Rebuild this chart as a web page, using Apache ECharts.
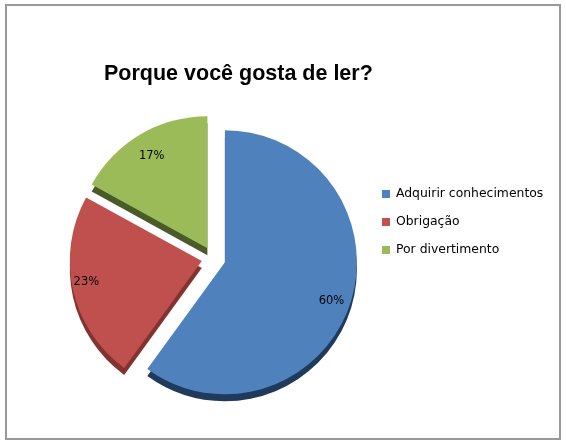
<!DOCTYPE html>
<html>
<head>
<meta charset="utf-8">
<style>
  html, body { margin: 0; padding: 0; background: #fff; }
  #chart { width: 566px; height: 445px; }
</style>
<script src="https://cdn.jsdelivr.net/npm/echarts@6/dist/echarts.min.js"></script>
</head>
<body>
<div id="chart"></div>
<script>
var categories = ['Adquirir conhecimentos', 'Obrigação', 'Por divertimento'];
var values = [60, 23, 17];
var colors = ['#4f81bd', '#c0504d', '#9bbb59'];
var sideColors = ['#203a5c', '#83332f', '#4a5a28'];
var labelNudge = [[-3, 3], [-3, -4], [3, 7]];

function sliceData(palette) {
  return categories.map(function (name, i) {
    return { name: name, value: values[i], selected: true, itemStyle: { color: palette[i] } };
  });
}

var pieCenter = [213.5, 258.5];
var pieRadius = 132;

var myChart = echarts.init(document.getElementById('chart'));
var option = {
  animation: false,
  title: {
    text: 'Porque você gosta de ler?',
    left: 99,
    top: 58,
    textStyle: { fontFamily: 'Liberation Sans', fontSize: 21.5, fontWeight: 'bold', color: '#000' }
  },
  legend: {
    orient: 'vertical',
    left: 377,
    top: 182,
    itemWidth: 8,
    itemHeight: 8,
    itemGap: 14,
    icon: 'rect',
    data: categories,
    textStyle: { fontFamily: 'DejaVu Sans', fontSize: 12.4, lineHeight: 14, color: '#000', padding: [0, 0, 0, 1] }
  },
  graphic: [
    {
      type: 'rect',
      z: -1,
      shape: { x: 6, y: 5, width: 554, height: 434 },
      style: { fill: '#fff', stroke: '#999999', lineWidth: 2 }
    }
  ],
  series: [
    {
      name: 'face',
      type: 'pie',
      z: 3,
      center: pieCenter,
      radius: [0, pieRadius],
      startAngle: 90,
      selectedMode: 'multiple',
      selectedOffset: 12,
      silent: true,
      label: { show: false },
      labelLine: { show: false },
      emphasis: { disabled: true },
      data: sliceData(colors)
    },
    {
      name: 'side',
      type: 'pie',
      z: 1,
      center: [pieCenter[0], pieCenter[1] + 7],
      radius: [0, pieRadius],
      startAngle: 90,
      selectedMode: 'multiple',
      selectedOffset: 12,
      silent: true,
      label: { show: false },
      labelLine: { show: false },
      emphasis: { disabled: true },
      data: sliceData(sideColors)
    },
    {
      // transparent ring, only there to put the percent labels near the rim
      name: 'labels',
      type: 'pie',
      z: 4,
      center: pieCenter,
      radius: [pieRadius * 0.7, pieRadius],
      startAngle: 90,
      selectedMode: 'multiple',
      selectedOffset: 12,
      silent: true,
      itemStyle: { color: 'transparent' },
      label: {
        show: true,
        position: 'inside',
        formatter: '{d}%',
        fontFamily: 'DejaVu Sans',
        fontSize: 11.5,
        color: '#000'
      },
      labelLayout: function (params) {
        return { dx: labelNudge[params.dataIndex][0], dy: labelNudge[params.dataIndex][1] };
      },
      labelLine: { show: false },
      emphasis: { disabled: true },
      data: categories.map(function (name, i) {
        return { name: name, value: values[i], selected: true };
      })
    }
  ]
};
myChart.setOption(option);
</script>
</body>
</html>
